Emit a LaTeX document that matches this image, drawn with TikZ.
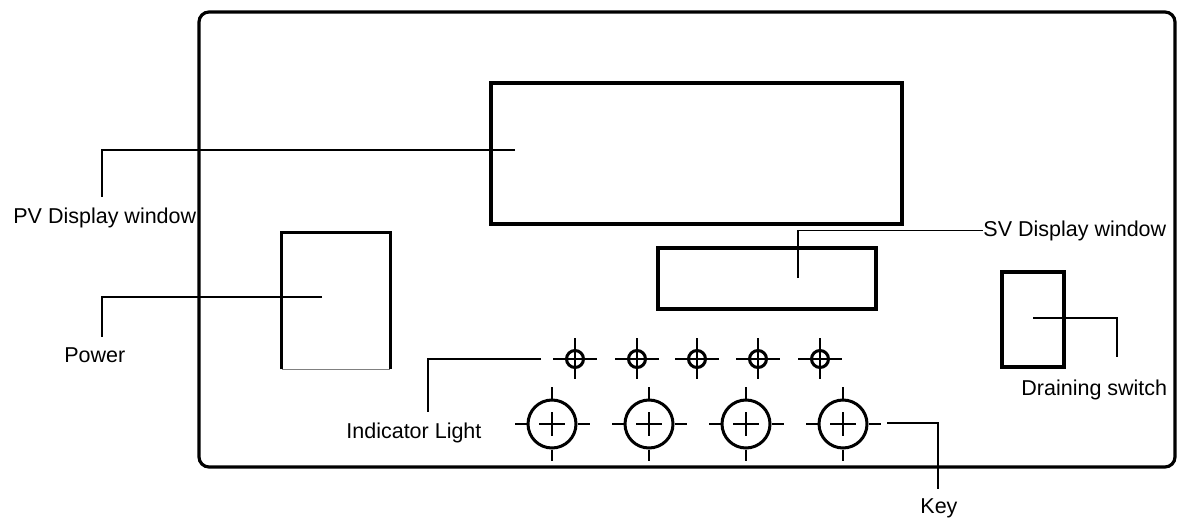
\documentclass[tikz,border=0pt]{standalone}
\usepackage{fontspec}
\setmainfont{Liberation Sans}
\usetikzlibrary{fit}
\begin{document}
\begin{tikzpicture}[x=0.5pt,y=-0.5pt,
  box/.style={draw, line width=1.6pt, inner sep=0pt},
  lead/.style={line width=0.6pt},
  lbl/.style={inner sep=0pt, anchor=base west, font=\fontsize{10.75pt}{13pt}\selectfont},
  lamp/.style={circle, draw, line width=1.5pt, minimum size=8.5pt, inner sep=0pt},
  keyc/.style={circle, draw, line width=1.5pt, minimum size=24pt, inner sep=0pt},
  tickline/.style={line width=0.9pt},
  plusline/.style={line width=0.7pt}]
\useasboundingbox (0,0) rectangle (1177,519);
% panel and windows
\node[box, rounded corners=5pt, fit={(199,12)(1175,467)}] (panel) {};
\node[box, fit={(491,83)(902,224)}] (pv) {};
\node[box, fit={(658,248)(876,309)}] (sv) {};
\node[inner sep=0pt, fit={(282,233)(390,369)}] (pw) {};
\draw[line width=1.6pt] (pw.south west) -- (pw.north west) -- (pw.north east) -- (pw.south east);
\draw[gray, line width=0.9pt] (pw.south west) -- (pw.south east);
\node[box, fit={(1002,272)(1064,367)}] (dr) {};
% indicator lights
\foreach \i/\x in {1/575,2/637,3/697,4/758,5/820}{
  \node[lamp] (l\i) at (\x,359) {};
  \draw[tickline] ([xshift=-11pt]l\i.center) -- ([xshift=11pt]l\i.center);
  \draw[tickline] ([yshift=10.5pt]l\i.center) -- ([yshift=-10pt]l\i.center);
}
% keys
\foreach \i/\x in {1/552,2/649,3/746,4/843}{
  \node[keyc] (k\i) at (\x,424) {};
  \draw[tickline] (k\i.west) -- ++(-12,0);
  \draw[tickline] (k\i.east) -- ++(12,0);
  \draw[tickline] (k\i.north) -- ++(0,-12);
  \draw[tickline] (k\i.south) -- ++(0,11);
  \draw[plusline] ([xshift=-6.5pt]k\i.center) -- ([xshift=6.5pt]k\i.center);
  \draw[plusline] ([yshift=6pt]k\i.center) -- ([yshift=-6pt]k\i.center);
}
% labels
\node[lbl] (pvl) at (13,223) {PV Display window};
\node[lbl] (pwl) at (64,362) {Power};
\node[lbl] (svl) at (983,236) {SV Display window};
\node[lbl] (ill) at (346,438) {Indicator Light};
\node[lbl] (drl) at (1021,395) {Draining switch};
\node[lbl] (kl) at (920,513) {Key};
% leader lines
\coordinate (pvin) at (515,150);
\coordinate (pvend) at (102,197);
\draw[lead] (pvin) -| (pvend);
\coordinate (pwin) at (322,297);
\coordinate (pwend) at (102,337);
\draw[lead] (pwin) -| (pwend);
\coordinate (svin) at (798,278);
\draw[lead] (svin) |- (svl.west);
\coordinate (drin) at (1033,318);
\coordinate (drend) at (1117,357);
\draw[lead] (drin) -| (drend);
\coordinate (ilin) at (541,359);
\coordinate (ilend) at (428,412);
\draw[lead] (ilin) -| (ilend);
\coordinate (kin) at (887,423);
\coordinate (kend) at (938,489);
\draw[lead] (kin) -| (kend);
\end{tikzpicture}
\end{document}
